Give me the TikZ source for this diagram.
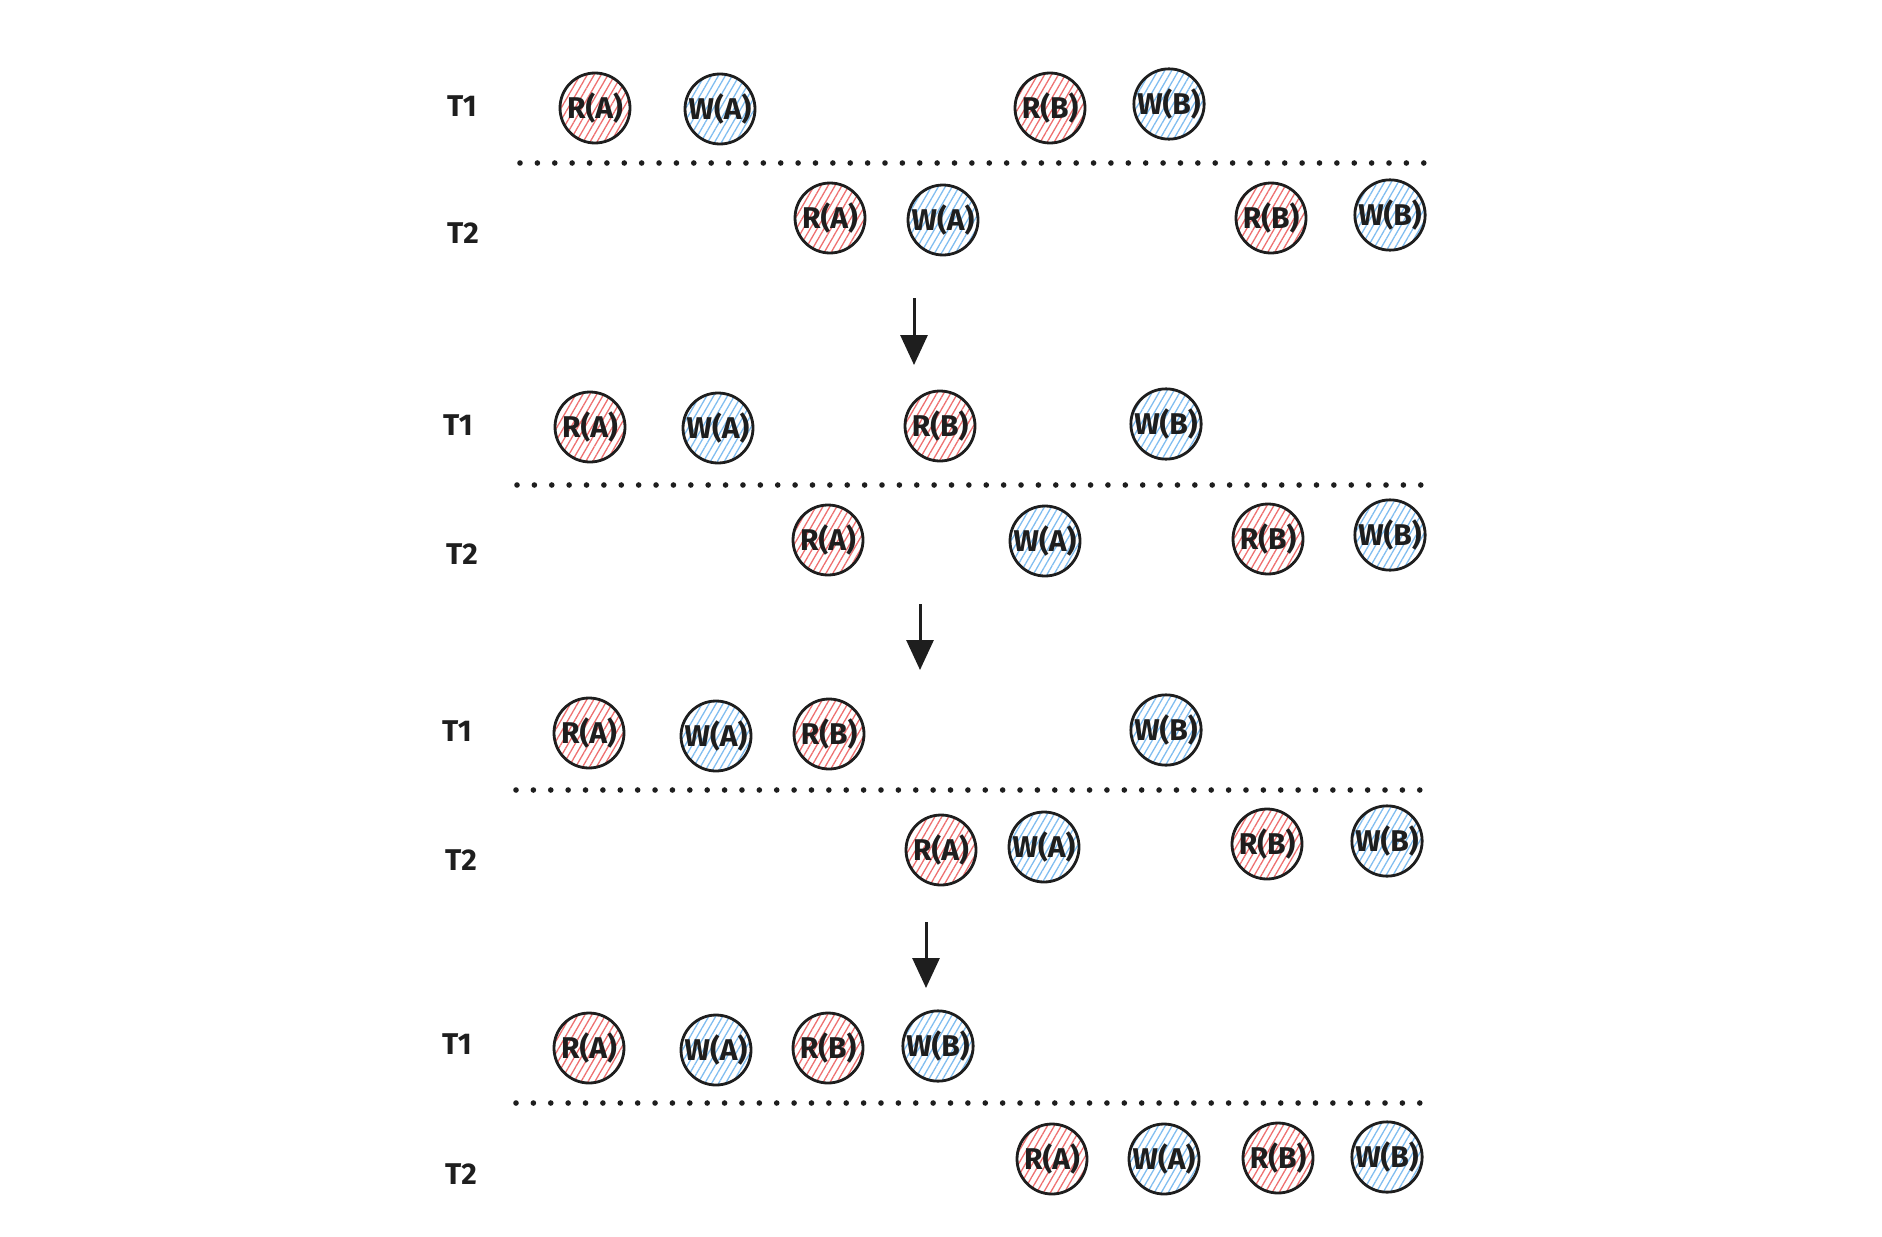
\documentclass[tikz,border=0pt]{standalone}
\usepackage{fontspec}
\setmainfont{Fira Sans}
\usetikzlibrary{patterns.meta,arrows.meta}
\definecolor{hred}{HTML}{EE7070}
\definecolor{hblue}{HTML}{80BDF0}
\definecolor{ink}{HTML}{1E1E1E}
\tikzset{
  op/.style={circle,draw=ink,line width=1.4pt,minimum size=35pt,inner sep=0pt,
    font=\fontsize{15}{17}\selectfont\bfseries,text=ink},
  rop/.style={op,pattern={Lines[angle=60,distance=3pt,line width=0.65pt]},pattern color=hred},
  wop/.style={op,pattern={Lines[angle=60,distance=3pt,line width=0.65pt]},pattern color=hblue},
  tlab/.style={font=\fontsize{15}{17}\selectfont\bfseries,text=ink},
  sep/.style={draw=ink,line width=2.8pt,line cap=round,dash pattern=on 0pt off 8.69pt},
  flow/.style={draw=ink,line width=1.5pt,-{Triangle[width=13.5pt,length=15pt]}}
}
\begin{document}
\begin{tikzpicture}[x=0.5pt,y=-0.5pt]
\path[use as bounding box] (0,0) rectangle (1882,1236);
% ---------- group 1
\node[tlab] (g1l1) at (462,106) {T1};
\node[rop] (g1a) at (595,108) {R(A)};
\node[wop] (g1b) at (720,109) {W(A)};
\node[rop] (g1c) at (1050,108) {R(B)};
\node[wop] (g1d) at (1169,104) {W(B)};
\coordinate (g1s) at (520,163); \coordinate (g1e) at (1432,163);
\draw[sep] (g1s) -- (g1e);
\node[tlab] (g1l2) at (463,233) {T2};
\node[rop] (g1f) at (830,218) {R(A)};
\node[wop] (g1g) at (943,220) {W(A)};
\node[rop] (g1h) at (1271,218) {R(B)};
\node[wop] (g1i) at (1390,215) {W(B)};
\coordinate (a1s) at (914,298); \coordinate (a1e) at (914,365);
\draw[flow] (a1s) -- (a1e);
% ---------- group 2
\node[tlab] (g2l1) at (458,425) {T1};
\node[rop] (g2a) at (590,427) {R(A)};
\node[wop] (g2b) at (718,428) {W(A)};
\node[rop] (g2c) at (940,426) {R(B)};
\node[wop] (g2d) at (1166,424) {W(B)};
\coordinate (g2s) at (517,485); \coordinate (g2e) at (1430,485);
\draw[sep] (g2s) -- (g2e);
\node[tlab] (g2l2) at (462,554) {T2};
\node[rop] (g2f) at (828,540) {R(A)};
\node[wop] (g2g) at (1045,541) {W(A)};
\node[rop] (g2h) at (1268,539) {R(B)};
\node[wop] (g2i) at (1390,535) {W(B)};
\coordinate (a2s) at (920,604); \coordinate (a2e) at (920,670);
\draw[flow] (a2s) -- (a2e);
% ---------- group 3
\node[tlab] (g3l1) at (457,731) {T1};
\node[rop] (g3a) at (589,733) {R(A)};
\node[wop] (g3b) at (716,736) {W(A)};
\node[rop] (g3c) at (829,734) {R(B)};
\node[wop] (g3d) at (1166,730) {W(B)};
\coordinate (g3s) at (516,790); \coordinate (g3e) at (1429,790);
\draw[sep] (g3s) -- (g3e);
\node[tlab] (g3l2) at (461,860) {T2};
\node[rop] (g3f) at (941,850) {R(A)};
\node[wop] (g3g) at (1044,847) {W(A)};
\node[rop] (g3h) at (1267,844) {R(B)};
\node[wop] (g3i) at (1387,841) {W(B)};
\coordinate (a3s) at (926,922); \coordinate (a3e) at (926,988);
\draw[flow] (a3s) -- (a3e);
% ---------- group 4
\node[tlab] (g4l1) at (457,1044) {T1};
\node[rop] (g4a) at (589,1048) {R(A)};
\node[wop] (g4b) at (716,1050) {W(A)};
\node[rop] (g4c) at (828,1048) {R(B)};
\node[wop] (g4d) at (938,1046) {W(B)};
\coordinate (g4s) at (516,1103); \coordinate (g4e) at (1429,1103);
\draw[sep] (g4s) -- (g4e);
\node[tlab] (g4l2) at (461,1174) {T2};
\node[rop] (g4f) at (1052,1159) {R(A)};
\node[wop] (g4g) at (1164,1159) {W(A)};
\node[rop] (g4h) at (1278,1158) {R(B)};
\node[wop] (g4i) at (1387,1157) {W(B)};
\end{tikzpicture}
\end{document}
